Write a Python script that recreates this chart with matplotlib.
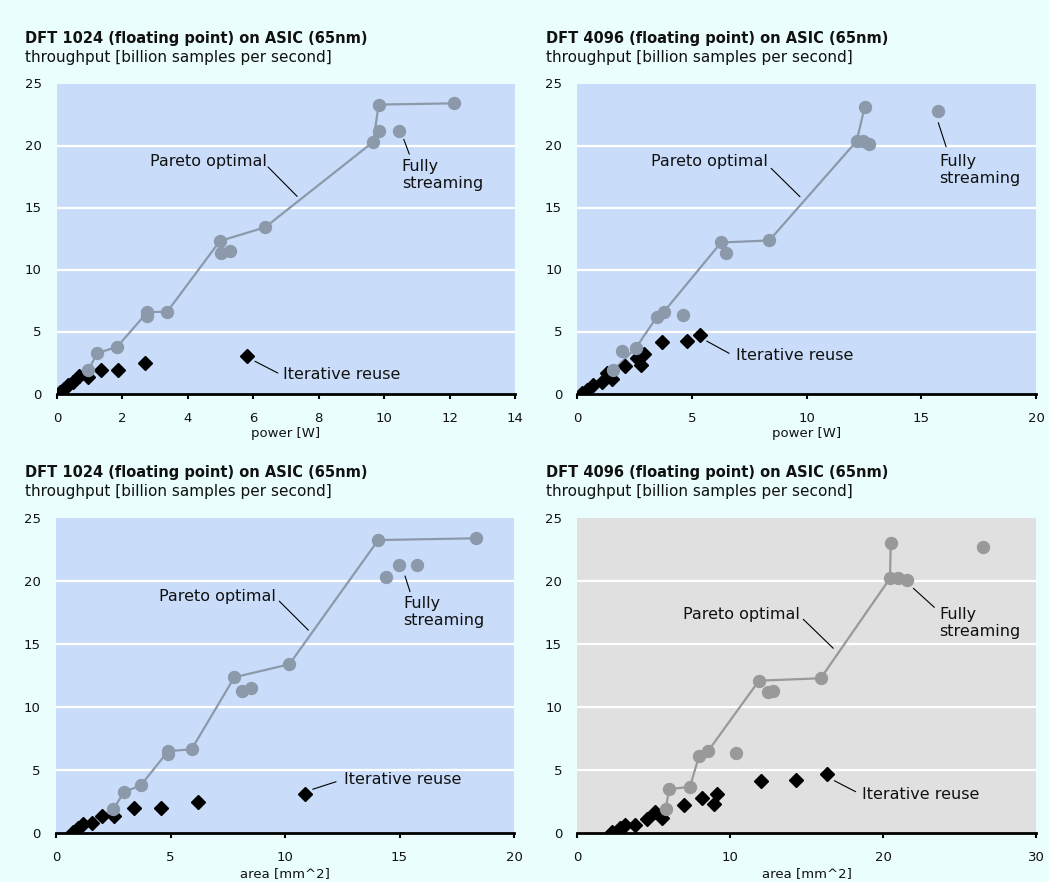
import matplotlib
matplotlib.use("Agg")
import matplotlib.pyplot as plt

# ---------------- data ----------------
titles = ["DFT 1024 (floating point) on ASIC (65nm)", "DFT 4096 (floating point) on ASIC (65nm)",
          "DFT 1024 (floating point) on ASIC (65nm)", "DFT 4096 (floating point) on ASIC (65nm)"]
subtitle = "throughput [billion samples per second]"
xlabels = ["power [W]", "power [W]", "area [mm^2]", "area [mm^2]"]
xlims = [14, 20, 20, 30]
xtick_steps = [2, 5, 5, 10]
yticks = [0, 5, 10, 15, 20, 25]

# panel 1: DFT 1024, power
pareto1_x = [0.08, 0.3, 0.55, 0.96, 1.23, 1.84, 2.76, 3.37, 4.98, 6.36, 9.67, 9.83, 12.15]
pareto1_y = [0.15, 0.55, 1.0, 1.9, 3.25, 3.77, 6.55, 6.6, 12.3, 13.4, 20.3, 23.3, 23.4]
other1_x = [2.76, 5.0, 5.29, 9.85, 10.45]
other1_y = [6.25, 11.3, 11.5, 21.2, 21.2]
iter1_x = [0.08, 0.2, 0.35, 0.5, 0.68, 0.96, 1.35, 1.87, 2.69, 5.8]
iter1_y = [0.15, 0.35, 0.65, 0.95, 1.45, 1.35, 1.9, 1.9, 2.5, 3.05]

# panel 2: DFT 4096, power
pareto2_x = [0.1, 0.5, 1.0, 1.57, 2.56, 3.46, 3.78, 6.27, 8.37, 12.18, 12.53]
pareto2_y = [0.1, 0.55, 1.15, 1.88, 3.7, 6.15, 6.6, 12.18, 12.34, 20.35, 23.1]
other2_x = [1.94, 4.62, 6.47, 12.47, 12.72, 15.72]
other2_y = [3.45, 6.33, 11.3, 20.35, 20.15, 22.77]
iter2_x = [0.2, 0.42, 0.7, 1.06, 1.28, 1.5, 2.08, 2.59, 2.76, 2.91, 3.68, 4.77, 5.35]
iter2_y = [0.08, 0.25, 0.67, 0.94, 1.62, 1.16, 2.23, 2.83, 2.29, 3.15, 4.12, 4.23, 4.7]

# panel 3: DFT 1024, area
pareto3_x = [0.78, 1.2, 2.0, 2.5, 2.97, 3.7, 4.9, 5.92, 7.79, 10.19, 14.07, 18.34]
pareto3_y = [0.12, 0.75, 1.35, 1.88, 3.25, 3.78, 6.5, 6.64, 12.36, 13.39, 23.25, 23.39]
other3_x = [4.9, 8.14, 8.52, 14.4, 14.99, 15.75]
other3_y = [6.27, 11.3, 11.54, 20.3, 21.27, 21.27]
iter3_x = [0.76, 0.97, 1.19, 1.56, 2.0, 2.55, 3.41, 4.57, 6.2, 10.87]
iter3_y = [0.1, 0.37, 0.75, 0.77, 1.38, 1.38, 2.0, 2.0, 2.49, 3.07]

# panel 4: DFT 4096, area
pareto4_x = [5.78, 6.0, 7.37, 7.96, 8.57, 11.88, 15.92, 20.45, 20.5]
pareto4_y = [1.88, 3.47, 3.67, 6.11, 6.53, 12.09, 12.28, 20.21, 23.04]
other4_x = [10.38, 12.49, 12.78, 21.0, 21.54, 26.51]
other4_y = [6.33, 11.21, 11.3, 20.21, 20.08, 22.72]
iter4_x = [2.29, 2.79, 3.12, 3.77, 4.54, 5.1, 5.52, 7.0, 8.18, 8.94, 9.14, 12.0, 14.28, 16.31]
iter4_y = [0.1, 0.37, 0.63, 0.6, 1.14, 1.69, 1.2, 2.22, 2.8, 2.29, 3.12, 4.15, 4.21, 4.68]

label_pareto = "Pareto optimal"
label_stream = "Fully\nstreaming"
label_iter = "Iterative reuse"

# annotation layout: (text anchor, leader start, leader end)
annots = [
    {"pareto": ((6.42, 18.67), (6.45, 18.27), (7.34, 15.9)),
     "stream": ((10.54, 17.6), (10.6, 20.5), (10.77, 19.3)),
     "iter": ((6.92, 1.5), (6.05, 2.6), (6.75, 1.65))},
    {"pareto": ((8.3, 18.7), (8.45, 18.16), (9.71, 15.87)),
     "stream": ((15.77, 18.0), (15.74, 21.84), (16.08, 19.9)),
     "iter": ((6.9, 3.1), (5.64, 4.23), (6.62, 3.24))},
    {"pareto": ((9.62, 18.8), (9.75, 18.4), (11.02, 16.1)),
     "stream": ((15.17, 17.55), (15.24, 20.4), (15.46, 19.15)),
     "iter": ((12.58, 4.26), (11.21, 3.47), (12.23, 4.07))},
    {"pareto": ((14.58, 17.36), (14.78, 16.96), (16.74, 14.66)),
     "stream": ((23.68, 16.65), (21.98, 19.42), (23.35, 17.91)),
     "iter": ((18.64, 3.02), (16.81, 4.15), (18.2, 3.28))},
]

panels = [
    (pareto1_x, pareto1_y, other1_x, other1_y, iter1_x, iter1_y, 3),
    (pareto2_x, pareto2_y, other2_x, other2_y, iter2_x, iter2_y, 3),
    (pareto3_x, pareto3_y, other3_x, other3_y, iter3_x, iter3_y, 3),
    (pareto4_x, pareto4_y, other4_x, other4_y, iter4_x, iter4_y, 0),
]

# ---------------- style ----------------
W, H = 1049, 882
FIG_BG = "#EAFEFE"
AX_BG = ["#C9DDFA", "#C9DDFA", "#C9DDFA", "#E0E0E0"]
PT_COL = ["#8C99AB", "#8C99AB", "#8C99AB", "#999999"]
plt.rcParams["font.family"] = ["DejaVu Sans"]

fig = plt.figure(figsize=(W / 100, H / 100), dpi=100, facecolor=FIG_BG)

# pixel rects: left, right, top, bottom
rects = [(57, 515, 83.5, 393.5), (577.3, 1036, 83.5, 393.5),
         (56, 514, 518, 833), (577.3, 1036, 518, 833)]
title_x = [25, 546, 25, 546]
title_base = [42.7, 42.7, 476.7, 476.7]

for i, (l, r, t, b) in enumerate(rects):
    ax = fig.add_axes([l / W, 1 - b / H, (r - l) / W, (b - t) / H])
    ax.set_facecolor(AX_BG[i])
    px, py, ox, oy, ix, iy, skip = panels[i]
    col = PT_COL[i]
    ax.plot(px, py, color=col, lw=1.6, zorder=2, solid_capstyle="round")
    ax.plot(ix, iy, linestyle="none", marker="D", ms=7.0, color="black", zorder=3)
    ax.plot(px, py, linestyle="none", marker="o", ms=8.6, color=col, zorder=4,
            markevery=slice(skip, None))
    ax.plot(ox, oy, linestyle="none", marker="o", ms=8.6, color=col, zorder=4)

    ax.set_xlim(0, xlims[i])
    ax.set_ylim(0, 25)
    ax.set_xticks(list(range(0, xlims[i] + 1, xtick_steps[i])))
    ax.set_yticks(yticks)
    ax.grid(axis="y", color="white", lw=1.6, zorder=1)
    ax.set_axisbelow(True)
    gl = ax.get_ygridlines()
    gl[0].set_visible(False)
    gl[-1].set_visible(False)
    for s in ("left", "right", "top"):
        ax.spines[s].set_visible(False)
    ax.spines["bottom"].set_linewidth(2.0)
    ax.spines["bottom"].set_color("black")
    ax.tick_params(axis="y", length=0, pad=11, labelsize=9.5, labelcolor="#111111")
    ax.tick_params(axis="x", length=3.5, width=1.5, pad=9.5, labelsize=9.5,
                   labelcolor="#111111", direction="out")
    ax.set_xlabel(xlabels[i], fontsize=9.5, labelpad=2, color="#111111")

    a = annots[i]
    for key, txt, ha in (("pareto", label_pareto, "right"),
                         ("stream", label_stream, "left"),
                         ("iter", label_iter, "left")):
        (tx, ty), s0, s1 = a[key]
        ax.text(tx, ty, txt, ha=ha, va="center", fontsize=11.5, color="#111111",
                linespacing=1.2, zorder=5)
        ax.annotate("", xy=s1, xytext=s0,
                    arrowprops=dict(arrowstyle="-", lw=0.8, color="black",
                                    shrinkA=0, shrinkB=0), zorder=5)

    fig.text(title_x[i] / W, 1 - title_base[i] / H, titles[i], fontsize=10.5,
             fontweight="bold", ha="left", va="baseline", color="#111111")
    fig.text(title_x[i] / W, 1 - (title_base[i] + 19) / H, subtitle, fontsize=11,
             ha="left", va="baseline", color="#111111")

fig.savefig("out.png", dpi=100, facecolor=FIG_BG)
